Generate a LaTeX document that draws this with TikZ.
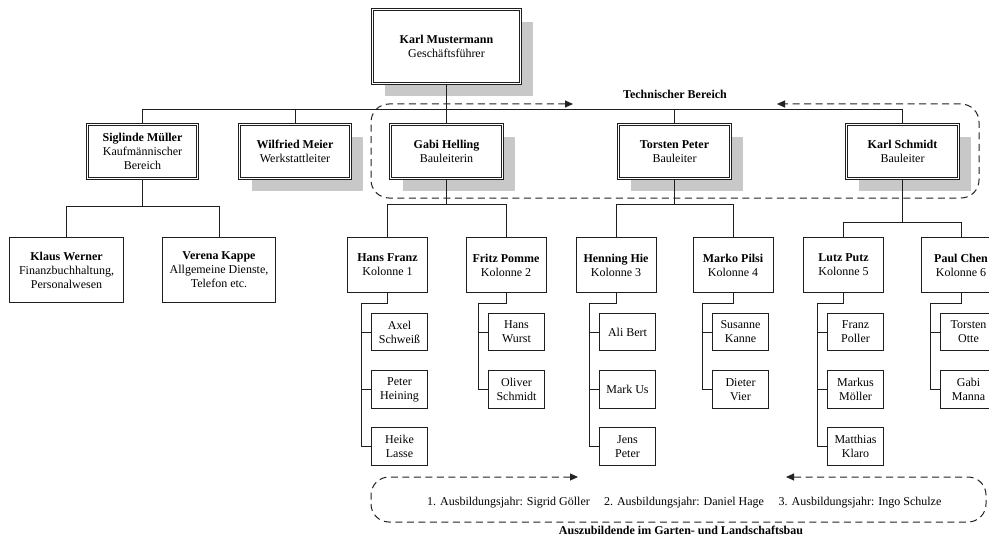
\documentclass[tikz,border=0pt]{standalone}
\usepackage{fontspec}
\setmainfont{Liberation Serif}
\usetikzlibrary{arrows.meta,backgrounds}
\definecolor{linec}{RGB}{30,30,30}
\definecolor{shadowc}{RGB}{200,200,200}
\definecolor{dashc}{RGB}{35,35,35}
\newcommand\nm[1]{\textbf{#1}}
\begin{document}
\begin{tikzpicture}[x=1pt,y=-1pt, font=\fontsize{12}{14}\selectfont,
  every node/.style={align=center, inner sep=0pt},
  dbox/.style={draw=linec, double=white, double distance=1.6pt, line width=0.75pt, fill=white, minimum height=54pt},
  sbox/.style={draw=linec, line width=0.9pt, fill=white},
  kbox/.style={sbox, minimum width=80pt, minimum height=55.5pt},
  cbox/.style={sbox, minimum width=56.5pt, minimum height=37.5pt},
  conn/.style={draw=linec, line width=0.9pt},
  dashrect/.style={draw=dashc, line width=1pt, dash pattern=on 7pt off 4.5pt, rounded corners=18pt,
    arrows={Triangle[length=8pt,width=7pt]-Triangle[length=8pt,width=7pt]}},
  boldlabel/.style={font=\fontsize{12}{14}\selectfont\bfseries}]
\useasboundingbox (0,0) rectangle (989,535);
\clip (0,0) rectangle (989,535);

% level 0/1 boxes
\node[dbox, minimum width=148pt, minimum height=74pt] (km) at (446.5,46.5) {\nm{Karl Mustermann}\\Geschäftsführer};
\node[dbox, minimum width=110pt] (sm) at (142.5,151.5) {\nm{Siglinde Müller}\\Kaufmännischer\\Bereich};
\node[dbox, minimum width=111pt] (wm) at (295,151.5) {\nm{Wilfried Meier}\\Werkstattleiter};
\node[dbox, minimum width=112pt] (gh) at (446.5,151.5) {\nm{Gabi Helling}\\Bauleiterin};
\node[dbox, minimum width=112pt] (tp) at (674.5,151.5) {\nm{Torsten Peter}\\Bauleiter};
\node[dbox, minimum width=112pt] (ks) at (902.5,151.5) {\nm{Karl Schmidt}\\Bauleiter};

% level 2 boxes
\node[sbox, minimum width=114pt, minimum height=65pt] (kw) at (66.5,270) {\nm{Klaus Werner}\\Finanzbuchhaltung,\\Personalwesen};
\node[sbox, minimum width=113pt, minimum height=65pt] (vk) at (219,270) {\nm{Verena Kappe}\\Allgemeine Dienste,\\Telefon etc.};

\node[kbox] (hf) at (387.5,265) {\nm{Hans Franz}\\Kolonne 1};
\node[kbox] (fp) at (506,265) {\nm{Fritz Pomme}\\Kolonne 2};
\node[kbox] (hh) at (616,265) {\nm{Henning Hie}\\Kolonne 3};
\node[kbox] (mp) at (733,265) {\nm{Marko Pilsi}\\Kolonne 4};
\node[kbox] (lp) at (843.5,265) {\nm{Lutz Putz}\\Kolonne 5};
\node[kbox] (pc) at (961,265) {\nm{Paul Chen}\\Kolonne 6};

% level 3 boxes
\node[cbox] (c11) at (399.5,332) {Axel\\Schweiß};
\node[cbox] (c12) at (399.5,389.5) {Peter\\Heining};
\node[cbox] (c13) at (399.5,446.5) {Heike\\Lasse};
\node[cbox] (c21) at (516.5,332) {Hans\\Wurst};
\node[cbox] (c22) at (516.5,389.5) {Oliver\\Schmidt};
\node[cbox] (c31) at (627.5,332) {Ali Bert};
\node[cbox] (c32) at (627.5,389.5) {Mark Us};
\node[cbox] (c33) at (627.5,446.5) {Jens\\Peter};
\node[cbox] (c41) at (740.5,332) {Susanne\\Kanne};
\node[cbox] (c42) at (740.5,389.5) {Dieter\\Vier};
\node[cbox] (c51) at (855.5,332) {Franz\\Poller};
\node[cbox] (c52) at (855.5,389.5) {Markus\\Möller};
\node[cbox] (c53) at (855.5,446.5) {Matthias\\Klaro};
\node[cbox] (c61) at (968.5,332) {Torsten\\Otte};
\node[cbox] (c62) at (968.5,389.5) {Gabi\\Manna};

\begin{pgfonlayer}{background}
  \fill[white] (0,0) rectangle (989,535);
  \foreach \n in {km,wm,gh,tp,ks}
    \fill[shadowc] ([shift={(12.5,12.5)}]\n.north west) rectangle ([shift={(12.5,12.5)}]\n.south east);
  \coordinate (h1) at (0,109);
  \coordinate (h2) at (0,206);
  \coordinate (h3) at (0,204);
  \coordinate (h4) at (0,222);
  \draw[conn] (sm.north) -- (sm.north |- h1) -- (ks.north |- h1) -- (ks.north);
  \draw[conn] (wm.north) -- (wm.north |- h1);
  \draw[conn] (tp.north) -- (tp.north |- h1);
  \draw[conn] (km.south) -- (gh.north);
  % Siglinde
  \draw[conn] (sm.south) -- (sm.south |- h2);
  \draw[conn] (kw.north) -- (kw.north |- h2) -- (vk.north |- h2) -- (vk.north);
  % Gabi
  \draw[conn] (gh.south) -- (gh.south |- h3);
  \draw[conn] (hf.north) -- (hf.north |- h3) -- (fp.north |- h3) -- (fp.north);
  % Torsten
  \draw[conn] (tp.south) -- (tp.south |- h3);
  \draw[conn] (hh.north) -- (hh.north |- h3) -- (mp.north |- h3) -- (mp.north);
  % Karl Schmidt
  \draw[conn] (ks.south) -- (ks.south |- h4);
  \draw[conn] (lp.north) -- (lp.north |- h4) -- (pc.north |- h4) -- (pc.north);
  % Kolonnen
  \draw[conn] (hf.south) -- ++(0,10) -| ([xshift=-9pt]c13.west) -- (c13.west);
  \draw[conn] ([xshift=-9pt]c11.west) -- (c11.west);
  \draw[conn] ([xshift=-9pt]c12.west) -- (c12.west);
  \draw[conn] (fp.south) -- ++(0,10) -| ([xshift=-9pt]c22.west) -- (c22.west);
  \draw[conn] ([xshift=-9pt]c21.west) -- (c21.west);
  \draw[conn] (hh.south) -- ++(0,10) -| ([xshift=-9pt]c33.west) -- (c33.west);
  \draw[conn] ([xshift=-9pt]c31.west) -- (c31.west);
  \draw[conn] ([xshift=-9pt]c32.west) -- (c32.west);
  \draw[conn] (mp.south) -- ++(0,10) -| ([xshift=-9pt]c42.west) -- (c42.west);
  \draw[conn] ([xshift=-9pt]c41.west) -- (c41.west);
  \draw[conn] (lp.south) -- ++(0,10) -| ([xshift=-9pt]c53.west) -- (c53.west);
  \draw[conn] ([xshift=-9pt]c51.west) -- (c51.west);
  \draw[conn] ([xshift=-9pt]c52.west) -- (c52.west);
  \draw[conn] (pc.south) -- ++(0,10) -| ([xshift=-9pt]c62.west) -- (c62.west);
  \draw[conn] ([xshift=-9pt]c61.west) -- (c61.west);
\end{pgfonlayer}

% Technischer Bereich
\coordinate (t1) at (573,104);
\coordinate (t2) at (777,104);
\draw[dashrect] (t1) -- (371,104) -- (371,198) -- (979,198) -- (979,104) -- (t2);
\node[boldlabel] (tb) at (675,94) {Technischer Bereich};

% Auszubildende
\coordinate (b1) at (578,477);
\coordinate (b2) at (786,477);
\draw[dashrect] (b1) -- (371,477) -- (371,522) -- (986,522) -- (986,477) -- (b2);
\node (a1) at (508.5,503) {1. Ausbildungsjahr: Sigrid Göller};
\node (a2) at (684,503) {2. Ausbildungsjahr: Daniel Hage};
\node (a3) at (860,503) {3. Ausbildungsjahr: Ingo Schulze};
\node[boldlabel] (az) at (681,530) {Auszubildende im Garten- und Landschaftsbau};
\end{tikzpicture}
\end{document}
